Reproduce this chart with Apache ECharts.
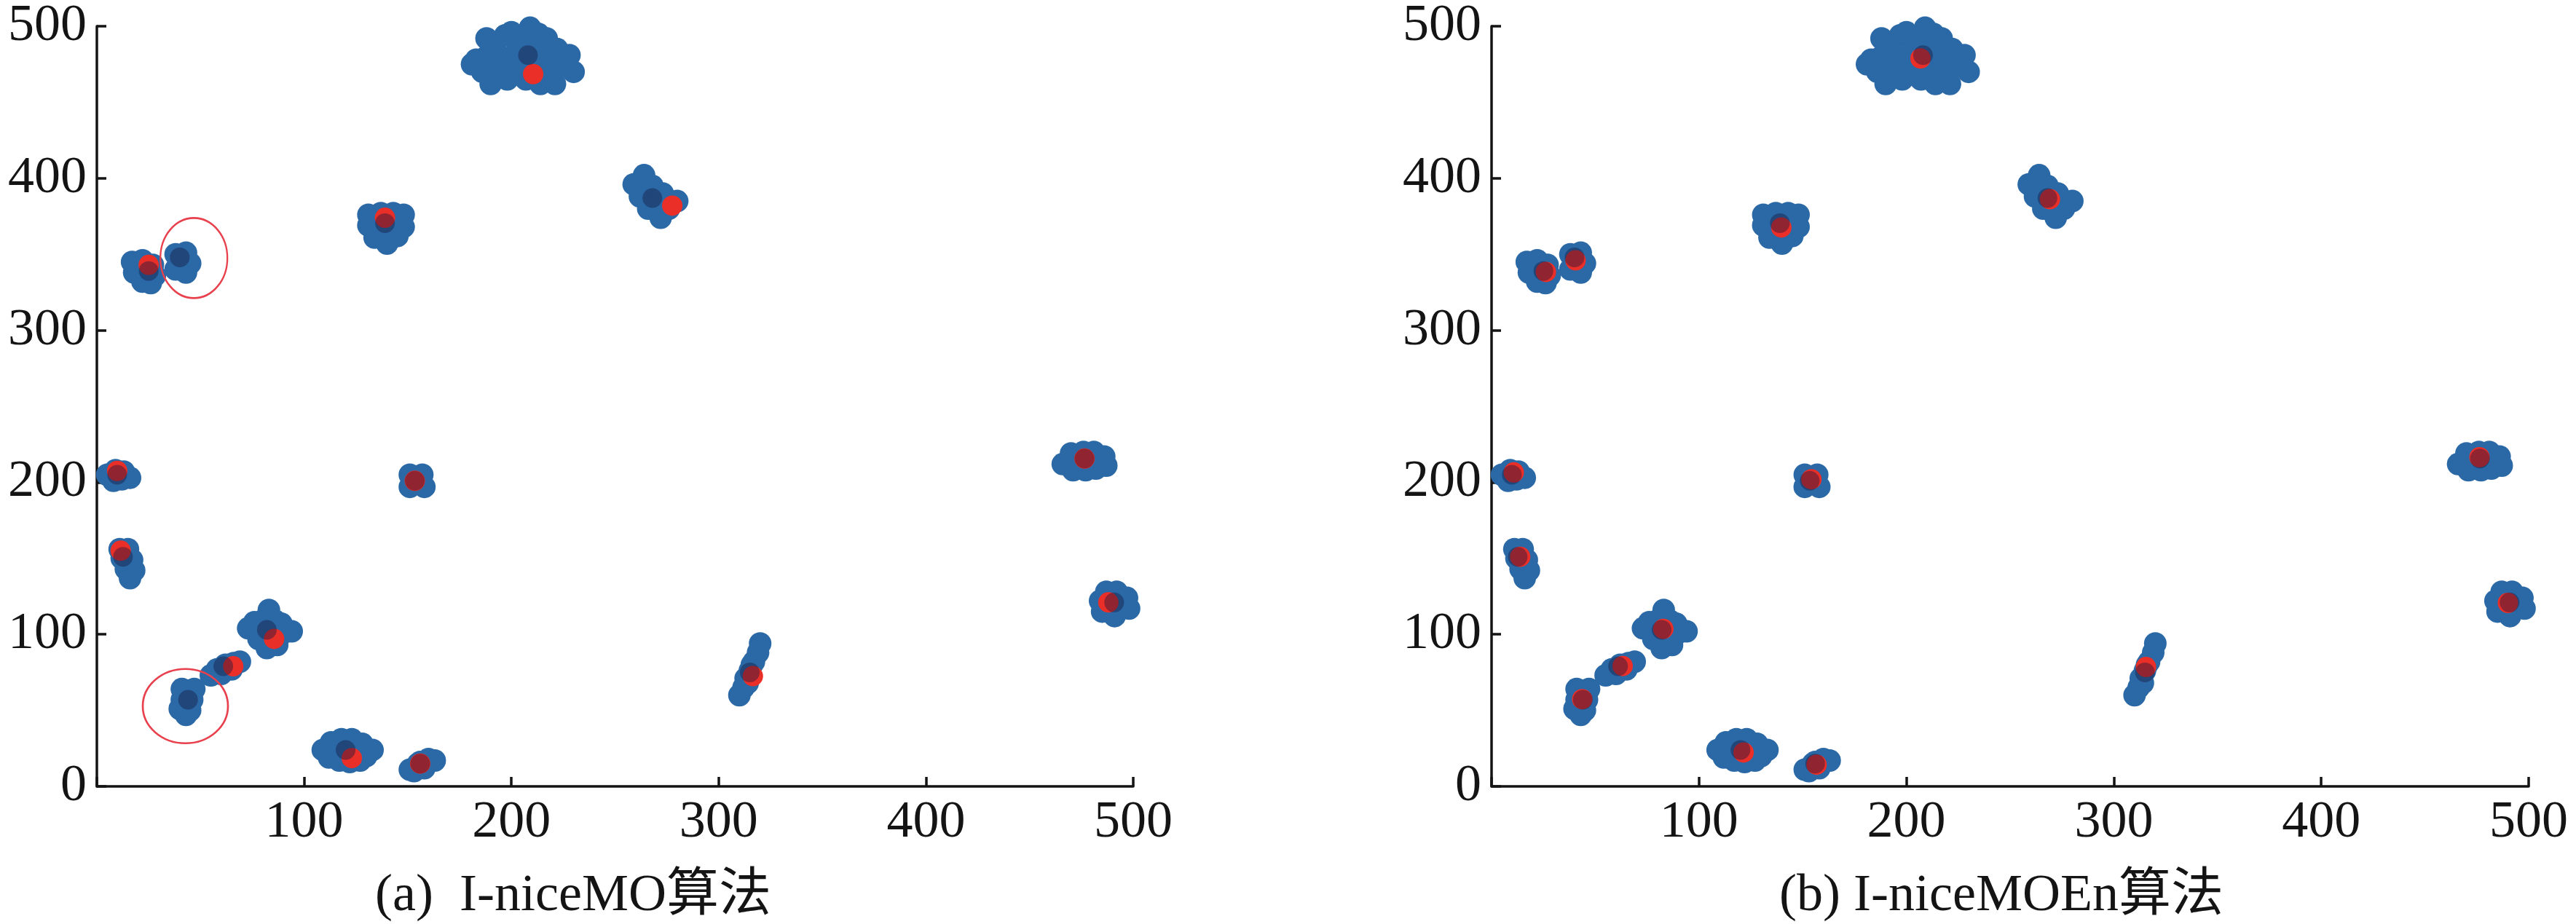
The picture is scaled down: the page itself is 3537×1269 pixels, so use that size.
<!DOCTYPE html>
<html>
<head>
<meta charset="utf-8">
<script src="https://cdn.jsdelivr.net/npm/echarts@6/dist/echarts.min.js"></script>
<style>
html,body{margin:0;padding:0;background:#fff;}
#chart{width:3537px;height:1269px;}
</style>
</head>
<body>
<div id="chart"></div>
<script>
// ---- data ----
const axisTicks = [0, 100, 200, 300, 400, 500];
const captions = ['(a)  I-niceMO算法', '(b) I-niceMOEn算法'];

// blue data points (identical in both panels)
const bluePoints = [
  // cluster near (208,480)
  [181,475],[188,492],[197,494],[209,499],[217,492],[228,481],[230,470],[221,462],[214,462],
  [190,462],[198,465],[205,480],[195,480],[215,480],[210,470],[200,472],[220,472],[188,480],
  [222,485],[205,490],[186,470],[226,474],[192,487],[203,485],[212,487],[225,478],[193,470],
  [207,465],[217,467],[183,478],[200,496],[213,495],[219,478],
  // cluster near (268,387)
  [259,396],[264,402],[262,388],[268,395],[268,385],[273,390],[272,374],[276,380],[280,385],[266,380],
  [263,395],[271,382],
  // cluster near (139,370)
  [131,376],[137,377],[143,377],[148,376],[131,369],[140,368],[148,368],[134,361],[140,357],[145,362],
  [136,372],[144,371],
  // cluster near (25,339)
  [17,345],[22,346],[27,343],[18,338],[23,338],[28,336],[22,332],[26,331],[24,341],
  // cluster near (40,348)
  [38,350],[43,351],[40,345],[45,344],[38,340],[43,338],
  // cluster near (10,205)
  [5,205],[9,208],[13,207],[16,203],[8,201],[12,202],
  // cluster near (13,151)
  [11,156],[15,156],[12,150],[17,149],[14,143],[18,142],[16,137],
  // cluster near (154,201)
  [151,205],[157,205],[154,200],[151,197],[158,197],
  // cluster near (82,103)
  [73,104],[78,104],[83,116],[81,110],[86,109],[89,107],[94,102],[88,99],[84,103],[82,91],[78,97],[87,93],
  [76,108],[90,101],[80,99],[85,96],
  // cluster near (62,79)
  [55,73],[58,77],[62,80],[66,81],[69,82],[60,74],[65,77],
  // cluster near (44,57)
  [41,64],[47,64],[41,57],[46,57],[40,51],[45,50],[43,47],
  // cluster near (121,23)
  [109,24],[113,29],[118,31],[123,31],[128,28],[133,24],[112,19],[117,17],[122,16],[127,17],[121,23],[116,24],[130,20],
  [125,24],[111,22],
  // cluster near (156,15)
  [151,11],[155,15],[160,18],[163,17],[153,10],[158,12],[156,16],
  // cluster near (476,215)
  [466,212],[470,219],[476,220],[481,220],[486,217],[487,211],[471,208],[477,208],[482,209],[476,214],
  // cluster near (490,121)
  [484,122],[487,128],[492,128],[497,124],[498,117],[485,115],[491,112],[490,120],
  // cluster near (315,75)
  [310,60],[312,65],[313,71],[315,76],[317,82],[319,88],[320,94],[316,80],[314,68]
];

// true cluster centres (dark points, both panels)
const trueCenters = [
  [208,481],[268,387],[139,370.5],[25,339],[40,348],[9.8,205],[12.6,151],[153.4,201],
  [82,103],[61,79],[44,57],[120,24],[156,15],[476.5,215.6],[490.8,121],[315,75]
];

// centres found by I-niceMO (panel a)
const centersMO = [
  [210.5,468.5],[277.6,382],[139,374],[25,343],[9.8,207.5],[11.5,155],[153.4,201],
  [85.5,97],[65.8,79],[123,18.6],[156,15],[476.5,215.6],[488,121],[316.5,72.5]
];

// centres found by I-niceMOEn (panel b)
const centersMOEn = [
  [206.8,478.8],[269.2,386.2],[139.7,367.6],[26.2,338.4],[40.5,346],[10.7,206.5],[13.8,151],
  [154.2,202],[82.8,103.6],[63.2,79.2],[43.7,57.4],[121.5,22.3],[156.7,14.3],[476.3,216.5],
  [490,120.7],[315.5,78.5]
];

// clusters missed by I-niceMO (circled in panel a)
const missedClusters = [[46.8,347.5],[42.7,52.8]];

// ---- styling ----
const BLUE = '#2b69a6';
const RED = '#ea2f28';
const DARK = 'rgba(18,22,62,0.42)';
const INK = '#141414';
const FONT = '"Liberation Serif", "Times New Roman", serif';
const missedRingSizes = [[92,110],[117,102]];

const chart = echarts.init(document.getElementById('chart'), null, {renderer:'canvas'});

function xAxisCfg(i){
  return {
    type:'value', gridIndex:i, min:0, max:500, interval:100,
    axisLine:{show:true, onZero:false, lineStyle:{color:INK, width:3.5}},
    axisTick:{show:true, inside:true, length:13, lineStyle:{color:INK, width:3.5}},
    splitLine:{show:false},
    axisLabel:{fontSize:72, fontFamily:FONT, color:INK, margin:14,
      formatter: v => (v === 0 ? '' : String(v))}
  };
}
function yAxisCfg(i){
  return {
    type:'value', gridIndex:i, min:0, max:500, interval:100,
    axisLine:{show:true, onZero:false, lineStyle:{color:INK, width:3.5}},
    axisTick:{show:true, inside:true, length:13, lineStyle:{color:INK, width:3.5}},
    splitLine:{show:false},
    axisLabel:{fontSize:72, fontFamily:FONT, color:INK, margin:14}
  };
}

const series = [];
[0,1].forEach(i => {
  series.push({
    type:'scatter', xAxisIndex:i, yAxisIndex:i, data:bluePoints, symbolSize:31,
    itemStyle:{color:BLUE, opacity:1}, silent:true, z:2, animation:false
  });
  series.push({
    type:'scatter', xAxisIndex:i, yAxisIndex:i, data: i===0 ? centersMO : centersMOEn, symbolSize:28,
    itemStyle:{color:RED, opacity:1}, silent:true, z:3, animation:false
  });
  series.push({
    type:'scatter', xAxisIndex:i, yAxisIndex:i, data:trueCenters, symbolSize:27,
    itemStyle:{color:DARK, opacity:1}, silent:true, z:4, animation:false
  });
});
series.push({
  type:'scatter', xAxisIndex:0, yAxisIndex:0,
  data: missedClusters.map((p, k) => ({value:p, symbolSize:missedRingSizes[k]})),
  symbol:'circle',
  itemStyle:{color:'rgba(0,0,0,0)', borderColor:'#e8404c', borderWidth:2.5, opacity:1},
  silent:true, z:5, animation:false
});

chart.setOption({
  backgroundColor:'#ffffff',
  animation:false,
  grid:[
    {left:133, top:34, width:1423, height:1046},
    {left:2048, top:34, width:1424, height:1046}
  ],
  xAxis:[xAxisCfg(0), xAxisCfg(1)],
  yAxis:[yAxisCfg(0), yAxisCfg(1)],
  series: series,
  graphic:[
    {type:'text', x:787, y:1231, style:{text:captions[0], x:0, y:0, align:'center', verticalAlign:'middle',
      font:'72px "Liberation Serif", "Noto Sans CJK SC", serif', fill:INK}},
    {type:'text', x:2748, y:1231, style:{text:captions[1], x:0, y:0, align:'center', verticalAlign:'middle',
      font:'72px "Liberation Serif", "Noto Sans CJK SC", serif', fill:INK}}
  ]
});
</script>
</body>
</html>
